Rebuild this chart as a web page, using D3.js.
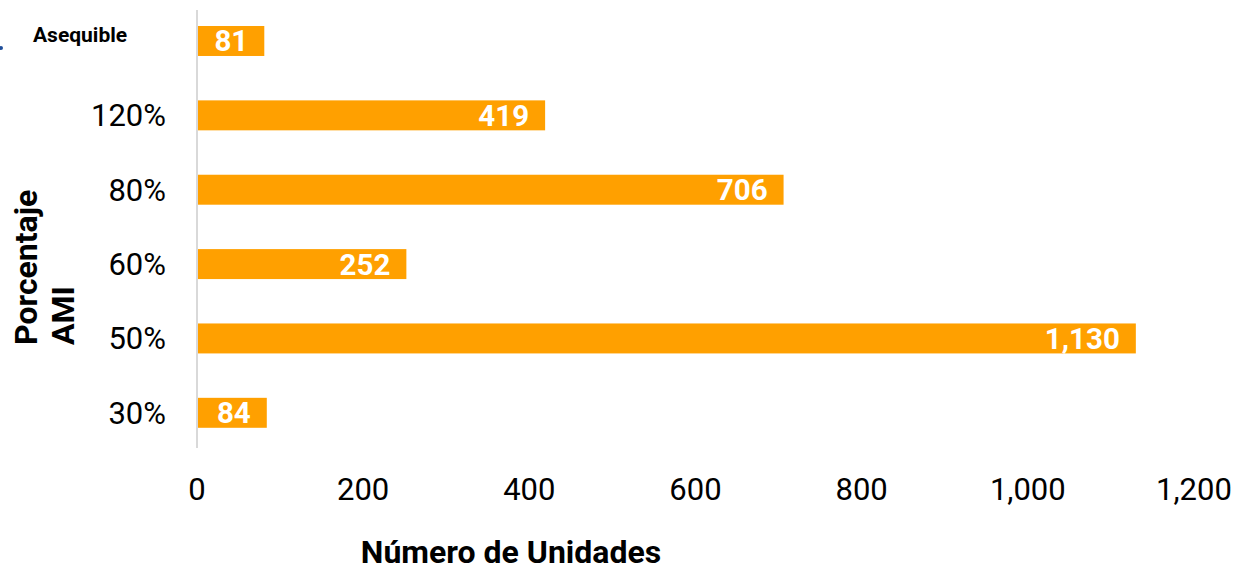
<!DOCTYPE html>
<html>
<head>
<meta charset="utf-8">
<script src="https://cdn.jsdelivr.net/npm/d3@7"></script>
<style>
body { margin: 0; background: #fff; }
svg text { font-family: Roboto, "Liberation Sans", sans-serif; }
</style>
</head>
<body>
<svg id="chart" width="1248" height="571"></svg>
<script>
const categories = ["Asequible", "120%", "80%", "60%", "50%", "30%"];
const values = [81, 419, 706, 252, 1130, 84];
const xTicks = [0, 200, 400, 600, 800, 1000, 1200];

const svg = d3.select("#chart");
const x = d3.scaleLinear().domain([0, 1200]).range([197, 1194]);
const y = d3.scaleBand().domain(categories).range([3.7, 450.1]).paddingInner(0.597).paddingOuter(0.3);
const fmt = d3.format(",");

// bars
svg.selectAll("rect.bar").data(categories).enter().append("rect")
  .attr("class", "bar")
  .attr("x", x(0))
  .attr("y", d => y(d))
  .attr("width", (d, i) => x(values[i]) - x(0))
  .attr("height", y.bandwidth())
  .attr("fill", "#FFA000");

// vertical axis line
svg.append("line")
  .attr("x1", x(0)).attr("x2", x(0))
  .attr("y1", 10).attr("y2", 448)
  .attr("stroke", "#d9d9d9").attr("stroke-width", 2);

// value labels
svg.selectAll("text.val").data(categories).enter().append("text")
  .attr("class", "val")
  .attr("x", (d, i) => x(values[i]) - 16)
  .attr("y", d => y(d) + y.bandwidth() / 2 + 10.5)
  .attr("text-anchor", "end")
  .attr("fill", "#fff")
  .attr("font-weight", "bold")
  .attr("font-size", 29.5)
  .text((d, i) => fmt(values[i]));

// y tick labels
svg.selectAll("text.ycat").data(categories).enter().append("text")
  .attr("class", "ycat")
  .attr("x", d => d === "Asequible" ? 33 : 166)
  .attr("y", d => d === "Asequible" ? y(d) + y.bandwidth() / 2 + 1 : y(d) + y.bandwidth() / 2 + 11)
  .attr("text-anchor", d => d === "Asequible" ? "start" : "end")
  .attr("font-weight", d => d === "Asequible" ? "bold" : "normal")
  .attr("font-size", d => d === "Asequible" ? 21 : 31)
  .attr("fill", "#000")
  .text(d => d);

// x tick labels
svg.selectAll("text.xt").data(xTicks).enter().append("text")
  .attr("class", "xt")
  .attr("x", d => x(d))
  .attr("y", 500)
  .attr("text-anchor", "middle")
  .attr("font-size", 31)
  .attr("fill", "#000")
  .text(d => fmt(d));

// axis titles
svg.append("text")
  .attr("x", 511).attr("y", 563)
  .attr("text-anchor", "middle")
  .attr("font-weight", "bold").attr("font-size", 32)
  .text("Número de Unidades");

const yt = svg.append("text")
  .attr("transform", "translate(37,345) rotate(-90)")
  .attr("text-anchor", "start")
  .attr("font-weight", "bold").attr("font-size", 32);
yt.append("tspan").attr("x", 0).attr("y", 0).text("Porcentaje");
yt.append("tspan").attr("x", 0).attr("y", 37).text("AMI");

// small marker at left edge
svg.append("circle").attr("cx", 1).attr("cy", 48).attr("r", 2).attr("fill", "#1f4e9a");
</script>
</body>
</html>
